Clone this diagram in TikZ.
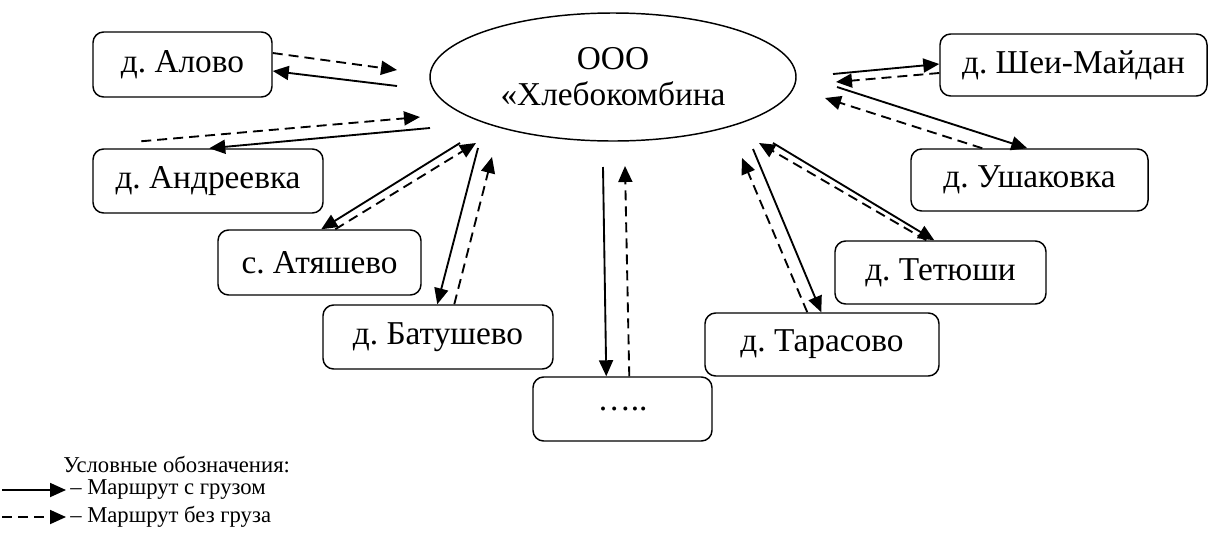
\documentclass[tikz,border=0pt]{standalone}
\usepackage{fontspec}
\setmainfont{Liberation Serif}
\usetikzlibrary{shapes.geometric,arrows.meta,calc}
\begin{document}
\frenchspacing
\begin{tikzpicture}[x=0.75pt,y=-0.75pt,
  box/.style={draw,line width=1.1pt,rounded corners=8pt,inner sep=0pt,
    font=\fontsize{25}{28}\selectfont},
  hub/.style={draw,ellipse,line width=1.1pt,inner sep=0pt,align=center,
    font=\fontsize{25}{27}\selectfont},
  load/.style={line width=1.4pt,-{Triangle[length=12pt,width=10.5pt]}},
  empty/.style={load,dash pattern=on 7.5pt off 4.5pt},
  legtext/.style={anchor=west,inner sep=0pt,font=\fontsize{17}{20}\selectfont},
]
\useasboundingbox (0,0) rectangle (1209,536);

% hub
\node[hub,minimum width=274.5pt,minimum height=96pt] (hub) at (613,77) {ООО\\«Хлебокомбина};

% boxes
\node[box,minimum width=134.25pt,minimum height=48.75pt] (alovo) at (182.5,64.5) {д. Алово};
\node[box,minimum width=172.5pt,minimum height=48pt] (andr) at (208,181) {д. Андреевка};
\node[box,minimum width=152.25pt,minimum height=48.75pt] (atya) at (319.5,262.5) {с. Атяшево};
\node[box,minimum width=172.5pt,minimum height=48pt] (batu) at (438,337) {д. Батушево};
\node[box,minimum width=134.25pt,minimum height=48pt] (dots) at (622.5,409) {…..};
\node[box,minimum width=175.5pt,minimum height=47.25pt] (taras) at (822,344.5) {д. Тарасово};
\node[box,minimum width=158.25pt,minimum height=47.25pt] (tetu) at (940.5,272.5) {д. Тетюши};
\node[box,minimum width=177.75pt,minimum height=46.5pt] (ushak) at (1029.5,180) {д. Ушаковка};
\node[box,minimum width=200.25pt,minimum height=46.5pt] (shei) at (1073.5,65) {д. Шеи-Майдан};

% free ends near the hub
\coordinate (a1) at (397,70);
\coordinate (a2) at (397,86);
\coordinate (b1) at (420,117);
\coordinate (b2) at (430,128);
\coordinate (c1) at (460,143);
\coordinate (c2) at (476,143);
\coordinate (d1) at (478,148);
\coordinate (d2) at (492,157);
\coordinate (e1) at (603,167);
\coordinate (e2) at (625,166);
\coordinate (f1) at (742,158);
\coordinate (f2) at (753,149);
\coordinate (g1) at (773,143);
\coordinate (g2) at (759,143);
\coordinate (h1) at (837,87);
\coordinate (h2) at (825,98);
\coordinate (k1) at (833,74);
\coordinate (k2) at (836,82);

% Алово
\draw[empty] ($(alovo.east)+(0,-11.5)$) -- (a1);
\draw[load] (a2) -- ($(alovo.east)+(0,6.5)$);
% Андреевка
\draw[empty] ($(andr.north west)+(49,-7)$) -- (b1);
\draw[load] (b2) -- ($(andr.north west)+(117,0)$);
% Атяшево
\draw[load] (c1) -- ($(atya.north west)+(104,0)$);
\draw[empty] ($(atya.north west)+(118,0)$) -- (c2);
% Батушево
\draw[load] (d1) -- ($(batu.north west)+(115,0)$);
\draw[empty] ($(batu.north west)+(132,0)$) -- (d2);
% .....
\draw[load] (e1) -- ($(dots.north west)+(74,0)$);
\draw[empty] ($(dots.north west)+(97,0)$) -- (e2);
% Тарасово
\draw[empty] ($(taras.north west)+(103,0)$) -- (f1);
\draw[load] (f2) -- ($(taras.north west)+(117,0)$);
% Тетюши
\draw[load] (g1) -- ($(tetu.north west)+(100,0)$);
\draw[empty] ($(tetu.north west)+(92,0)$) -- (g2);
% Ушаковка
\draw[load] (h1) -- ($(ushak.north west)+(117,0)$);
\draw[empty] ($(ushak.north west)+(72,0)$) -- (h2);
% Шеи-Майдан
\draw[load] (k1) -- ($(shei.west)+(0,-1)$);
\draw[empty] ($(shei.west)+(0,8)$) -- (k2);

% legend
\node[legtext] (legtitle) at (63,465) {Условные обозначения:};
\coordinate (l1) at (2,490);
\coordinate (l2) at (66,490);
\coordinate (l3) at (2,517);
\coordinate (l4) at (66,517);
\draw[load] (l1) -- (l2);
\draw[empty] (l3) -- (l4);
\node[legtext] (leg1) at (70,490) {– Маршрут с грузом};
\node[legtext] (leg2) at (70,517) {– Маршрут без груза};
\end{tikzpicture}
\end{document}
